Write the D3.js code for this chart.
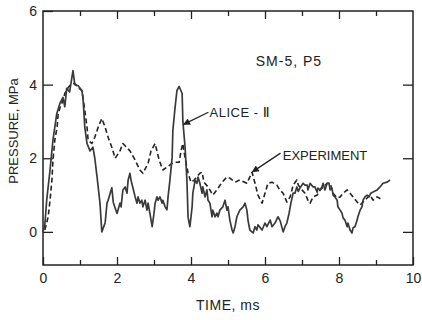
<!DOCTYPE html>
<html>
<head>
<meta charset="utf-8">
<script src="https://cdn.jsdelivr.net/npm/d3@7"></script>
<style>
  html, body { margin: 0; padding: 0; background: #fff; }
  svg { display: block; }
  text { font-family: "Liberation Sans", Arial, sans-serif; fill: #222; }
</style>
</head>
<body>
<svg id="chart" width="422" height="320"></svg>
<script>
// ---- Data ----
const xMajorTicks = [0, 2, 4, 6, 8, 10];
const xMinorTicks = [1, 3, 5, 7, 9];
const yTicks = [0, 2, 4, 6];
const xLabel = "TIME, ms";
const yLabel = "PRESSURE, MPa";
const caseLabel = "SM-5, P5";
const aliceLabel = "ALICE - Ⅱ";
const expLabel = "EXPERIMENT";

// ALICE-II calculation (solid)
const aliceTime = [0.0,0.05,0.1,0.19,0.27,0.37,0.46,0.54,0.59,0.64,0.72,0.81,0.86,0.95,1.05,1.08,1.13,1.19,1.27,1.35,1.4,1.46,1.54,1.59,1.68,1.73,1.76,1.86,1.9,2.0,2.08,2.11,2.16,2.22,2.27,2.3,2.35,2.38,2.43,2.49,2.54,2.57,2.62,2.67,2.7,2.76,2.81,2.84,2.89,2.95,3.0,3.03,3.08,3.11,3.16,3.22,3.24,3.3,3.35,3.38,3.43,3.49,3.51,3.57,3.62,3.68,3.76,3.78,3.84,3.89,3.92,3.97,4.03,4.05,4.11,4.16,4.19,4.24,4.3,4.32,4.38,4.43,4.46,4.51,4.57,4.59,4.65,4.7,4.73,4.78,4.86,4.92,4.97,5.0,5.05,5.11,5.14,5.19,5.24,5.32,5.41,5.46,5.51,5.54,5.59,5.68,5.73,5.78,5.81,5.92,6.0,6.05,6.14,6.19,6.27,6.35,6.41,6.49,6.54,6.59,6.65,6.7,6.76,6.81,6.86,6.9,6.95,7.03,7.08,7.14,7.16,7.22,7.3,7.35,7.41,7.43,7.49,7.54,7.57,7.62,7.68,7.73,7.76,7.81,7.84,7.89,7.95,7.97,8.03,8.08,8.11,8.16,8.22,8.24,8.3,8.35,8.38,8.43,8.49,8.51,8.57,8.62,8.65,8.7,8.76,8.81,8.86,8.92,9.03,9.11,9.19,9.3,9.38];
const alicePressure = [0.0,0.2,0.86,1.68,2.5,3.2,3.5,3.65,3.4,3.9,3.8,4.38,4.0,3.97,3.84,3.65,2.84,2.4,2.2,2.3,2.0,1.5,0.78,0.0,0.25,0.78,0.86,1.2,0.8,0.5,0.78,0.68,1.14,1.22,1.05,1.4,1.59,1.4,1.2,0.95,0.78,0.95,0.78,0.86,0.68,0.86,0.59,0.78,0.5,0.14,0.5,0.78,0.95,0.86,0.95,0.78,0.86,0.68,0.6,0.95,1.4,2.03,2.76,3.38,3.84,3.95,3.76,3.0,2.3,1.4,0.4,0.14,0.68,1.05,1.4,1.32,1.49,1.32,1.05,1.22,0.95,1.14,0.86,0.78,0.41,0.59,0.41,0.51,0.41,0.59,0.68,0.86,0.59,0.68,0.32,0.05,-0.03,0.14,0.41,0.59,0.68,0.78,0.59,0.32,0.05,-0.03,0.14,0.05,0.19,0.05,0.24,0.14,0.32,0.14,0.24,0.41,0.3,0.0,0.14,0.24,0.5,0.78,1.05,1.05,1.22,1.1,1.2,1.32,1.27,1.27,1.14,1.32,1.22,1.22,1.08,1.19,1.14,1.22,1.32,1.14,1.32,1.32,1.14,1.19,1.0,0.95,0.86,0.68,0.59,0.51,0.38,0.32,0.14,0.24,0.05,-0.03,0.11,0.14,0.32,0.41,0.59,0.68,0.86,0.95,1.0,0.95,1.05,1.08,1.14,1.22,1.32,1.35,1.41];

// Experiment (dashed)
const expTime = [0.05,0.14,0.19,0.24,0.27,0.32,0.38,0.41,0.46,0.54,0.59,0.68,0.78,0.86,0.95,1.05,1.08,1.13,1.19,1.22,1.32,1.4,1.49,1.59,1.68,1.76,1.86,1.95,2.08,2.16,2.35,2.49,2.62,2.7,2.84,2.92,3.03,3.14,3.24,3.38,3.49,3.57,3.68,3.73,3.78,3.84,3.92,4.0,4.08,4.16,4.24,4.3,4.35,4.46,4.59,4.7,4.84,4.97,5.05,5.19,5.32,5.51,5.65,5.73,5.81,5.92,6.0,6.08,6.19,6.32,6.4,6.49,6.59,6.68,6.76,6.86,6.9,7.0,7.08,7.16,7.22,7.3,7.41,7.49,7.57,7.68,7.76,7.84,7.95,8.03,8.11,8.22,8.3,8.38,8.49,8.57,8.65,8.76,8.84,8.92,9.03,9.12];
const expPressure = [0.05,0.41,0.86,1.4,1.95,2.5,2.84,3.2,3.38,3.57,3.76,3.92,4.03,4.03,3.92,3.84,3.65,3.3,2.84,2.49,2.4,2.57,2.84,3.08,2.84,2.57,2.3,2.0,2.2,2.4,2.2,1.95,1.68,1.59,1.86,2.2,2.4,1.95,1.68,1.78,1.86,1.89,1.89,2.2,2.4,2.0,1.6,1.35,1.4,1.5,1.59,1.62,1.35,1.22,1.0,1.14,1.35,1.49,1.46,1.35,1.41,1.32,1.62,1.32,1.0,0.78,1.05,1.32,1.35,1.27,1.14,1.05,0.81,0.95,1.27,1.41,1.27,1.14,1.05,0.86,0.78,0.95,1.0,1.14,1.22,1.32,1.32,1.05,0.92,0.95,1.05,1.14,1.05,0.95,0.81,0.73,0.81,0.92,1.0,0.86,0.95,0.9];

// ---- Drawing ----
const svg = d3.select("#chart");
const x = d3.scaleLinear().domain([0, 10]).range([43, 413]);
const y = d3.scaleLinear().domain([-0.9, 6]).range([265, 11]);
const ink = "#222";

const defs = svg.append("defs");
defs.append("marker").attr("id", "arrow")
  .attr("viewBox", "0 0 10 10").attr("refX", 9).attr("refY", 5)
  .attr("markerWidth", 9).attr("markerHeight", 7).attr("markerUnits", "userSpaceOnUse")
  .attr("orient", "auto")
  .append("path").attr("d", "M0,0L10,5L0,10Z").attr("fill", ink);

function styleAxis(g) {
  g.select(".domain").remove();
  g.selectAll(".tick line").attr("stroke", ink).attr("stroke-width", 1.3);
  g.selectAll(".tick text").attr("font-size", 14).attr("fill", ink)
    .attr("font-family", '"Liberation Sans", Arial, sans-serif');
}

// bottom axis
svg.append("g").attr("transform", `translate(0,${y.range()[0]})`)
  .call(d3.axisBottom(x).tickValues(xMajorTicks).tickSizeInner(-8).tickSizeOuter(0).tickPadding(8).tickFormat(d3.format("d")))
  .call(styleAxis);
svg.append("g").attr("transform", `translate(0,${y.range()[0]})`)
  .call(d3.axisBottom(x).tickValues(xMinorTicks).tickSizeInner(-5).tickSizeOuter(0).tickFormat(""))
  .call(styleAxis);
// top axis
svg.append("g").attr("transform", `translate(0,${y.range()[1]})`)
  .call(d3.axisTop(x).tickValues(xMajorTicks.slice(1, -1)).tickSizeInner(-8).tickSizeOuter(0).tickFormat(""))
  .call(styleAxis);
svg.append("g").attr("transform", `translate(0,${y.range()[1]})`)
  .call(d3.axisTop(x).tickValues(xMinorTicks).tickSizeInner(-5).tickSizeOuter(0).tickFormat(""))
  .call(styleAxis);
// left axis
svg.append("g").attr("transform", `translate(${x.range()[0]},0)`)
  .call(d3.axisLeft(y).tickValues(yTicks).tickSizeInner(-10).tickSizeOuter(0).tickPadding(6).tickFormat(d3.format("d")))
  .call(styleAxis);
// right axis
svg.append("g").attr("transform", `translate(${x.range()[1]},0)`)
  .call(d3.axisRight(y).tickValues(yTicks.slice(0, -1)).tickSizeInner(-10).tickSizeOuter(0).tickFormat(""))
  .call(styleAxis);

// frame
svg.append("rect")
  .attr("x", x(0)).attr("y", y(6))
  .attr("width", x(10) - x(0)).attr("height", y(-0.9) - y(6))
  .attr("fill", "none").attr("stroke", ink).attr("stroke-width", 1.5);

// curves
const line = d3.line().x(d => x(d[0])).y(d => y(d[1])).curve(d3.curveLinear);
const alice = aliceTime.map((t, i) => [t, alicePressure[i]]);
const exper = expTime.map((t, i) => [t, expPressure[i]]);

svg.append("path").datum(exper).attr("d", line)
  .attr("fill", "none").attr("stroke", ink).attr("stroke-width", 1.6)
  .attr("stroke-dasharray", "5,3").attr("stroke-linejoin", "round");
svg.append("path").datum(alice).attr("d", line)
  .attr("fill", "none").attr("stroke", "#3a3a3a").attr("stroke-width", 1.7)
  .attr("stroke-linejoin", "round");

// text labels
svg.append("text").attr("x", (x(0) + x(10)) / 2).attr("y", 310)
  .attr("text-anchor", "middle").attr("font-size", 14).attr("letter-spacing", 0.5).text(xLabel);
svg.append("text").attr("transform", `translate(18,131)rotate(-90)`)
  .attr("text-anchor", "middle").attr("font-size", 13).text(yLabel);

svg.append("text").attr("x", x(5.75)).attr("y", y(4.5))
  .attr("font-size", 14).attr("letter-spacing", 1).text(caseLabel);

const aliceText = svg.append("text").attr("x", x(4.5)).attr("y", y(3.12))
  .attr("font-size", 13).attr("letter-spacing", 0.5);
aliceText.append("tspan").text(aliceLabel.slice(0, -1));
aliceText.append("tspan").attr("font-family", '"DejaVu Sans", sans-serif').attr("font-size", 14).text(aliceLabel.slice(-1));

svg.append("text").attr("x", x(6.48)).attr("y", y(1.95))
  .attr("font-size", 13).text(expLabel);

// arrows
svg.append("line")
  .attr("x1", x(4.47)).attr("y1", y(3.25)).attr("x2", x(3.8)).attr("y2", y(2.92))
  .attr("stroke", ink).attr("stroke-width", 1.3).attr("marker-end", "url(#arrow)");
svg.append("line")
  .attr("x1", x(6.42)).attr("y1", y(2.14)).attr("x2", x(5.66)).attr("y2", y(1.63))
  .attr("stroke", ink).attr("stroke-width", 1.3).attr("marker-end", "url(#arrow)");
</script>
</body>
</html>
